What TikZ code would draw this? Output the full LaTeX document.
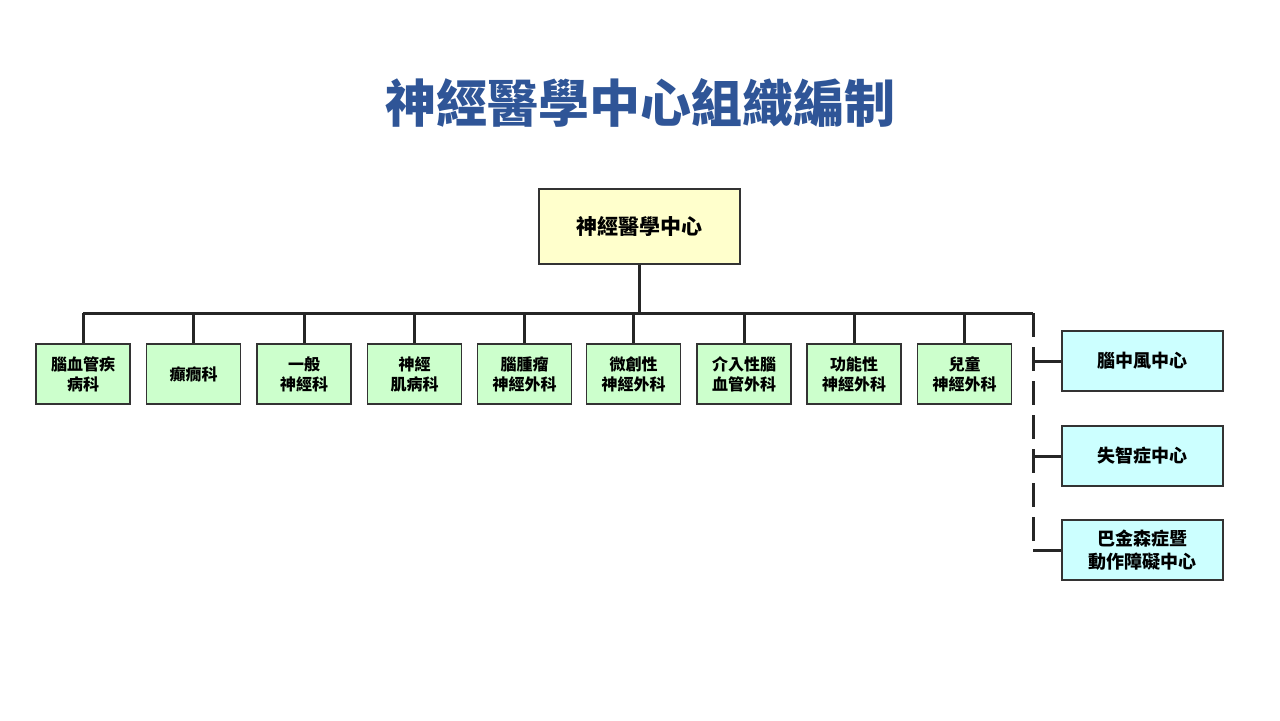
\documentclass[tikz,border=0pt]{standalone}
\usepackage{fontspec}
\setmainfont{Noto Sans CJK TC}
\definecolor{titleblue}{RGB}{47,85,151}
\definecolor{gbox}{RGB}{204,255,204}
\definecolor{ybox}{RGB}{255,255,204}
\definecolor{cbox}{RGB}{204,255,255}
\begin{document}
\begin{tikzpicture}[x=0.5pt,y=-0.5pt,
  box/.style={draw=black!80,line width=0.6pt,minimum height=30pt,inner sep=0pt,align=center,font=\fontsize{8}{10}\selectfont\bfseries},
  dept/.style={box,fill=gbox,minimum width=47pt},
  ctr/.style={box,fill=cbox,minimum width=80.5pt,font=\fontsize{9}{11.5}\selectfont\bfseries},
  ln/.style={line width=1.5pt,black!85}]
\fill[white] (0,0) rectangle (1280,720);
\useasboundingbox (0,0) rectangle (1280,720);
\node[text=titleblue,font=\fontsize{25.5}{28}\selectfont\bfseries] (title) at (640,103) {神經醫學中心組織編制};
\node[box,fill=ybox,minimum width=100.5pt,minimum height=37.5pt,font=\fontsize{10.5}{12}\selectfont\bfseries] (top) at (639.5,226.5) {神經醫學中心};
\coordinate (bl) at (83,313); \coordinate (br) at (1033,313);
\draw[ln] (top.south) -- (639.5,313);
\draw[ln] (bl) -- (br);
\foreach \x/\n/\t in {83/d1/{腦血管疾\\病科},193.5/d2/{癲癇科},304/d3/{一般\\神經科},414.5/d4/{神經\\肌病科},524.5/d5/{腦腫瘤\\神經外科},633.5/d6/{微創性\\神經外科},744/d7/{介入性腦\\血管外科},854/d8/{功能性\\神經外科},964.5/d9/{兒童\\神經外科}}{
  \node[dept] (\n) at (\x,374) {\t};
  \draw[ln] (\x,313) -- (\n.north);
}
\node[ctr] (c1) at (1142.5,361) {腦中風中心};
\node[ctr] (c2) at (1142.5,456) {失智症中心};
\node[ctr] (c3) at (1142.5,550) {巴金森症暨\\動作障礙中心};
\coordinate (e) at (1033,550);
\draw[ln,dash pattern=on 12pt off 5pt] (br) -- (e);
\draw[ln] (1033,361) -- (c1.west);
\draw[ln] (1033,456) -- (c2.west);
\draw[ln] (e) -- (c3.west);
\end{tikzpicture}
\end{document}
